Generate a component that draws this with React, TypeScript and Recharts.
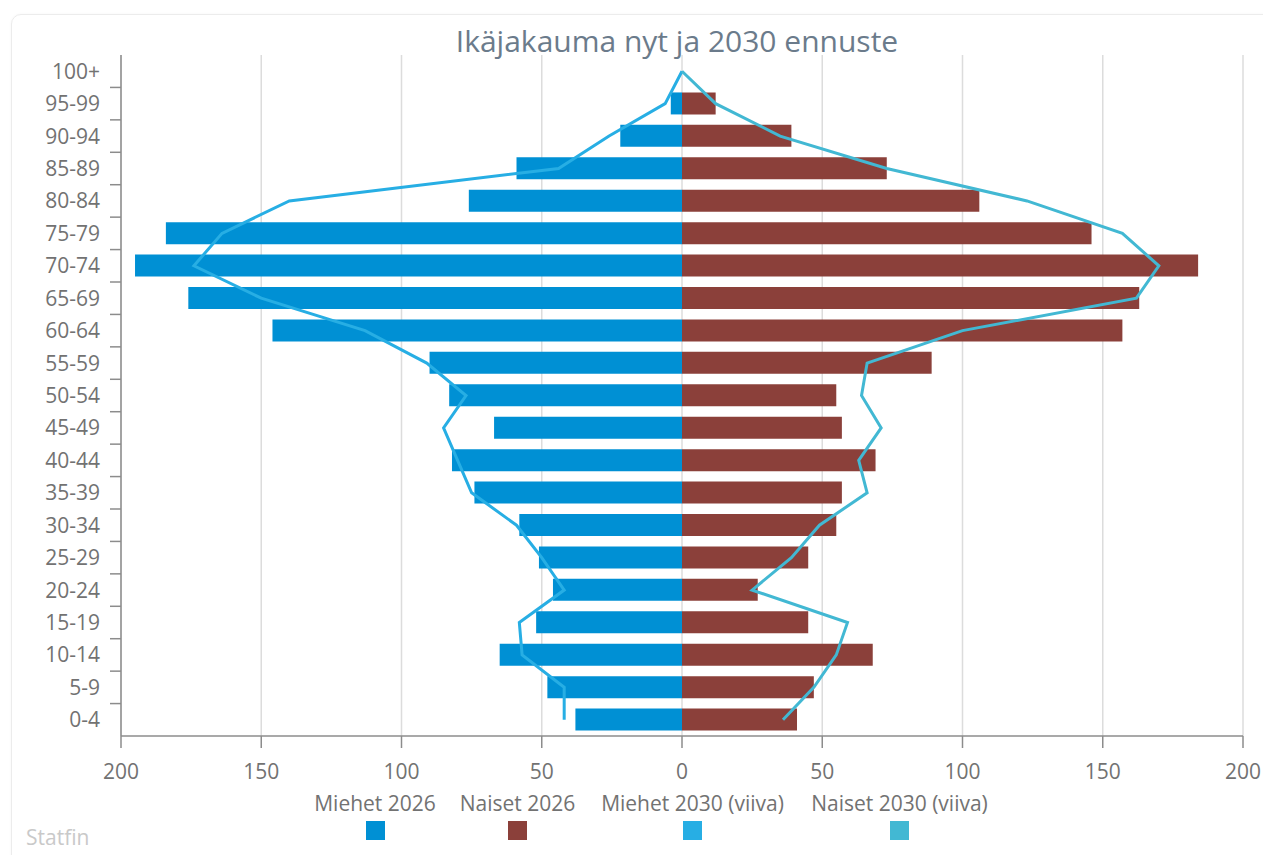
import React from 'react';
import {
  ComposedChart,
  Bar,
  Line,
  XAxis,
  YAxis,
  CartesianGrid,
} from 'recharts';

// Age groups, top row first
const AGES = [
  '100+', '95-99', '90-94', '85-89', '80-84', '75-79', '70-74', '65-69', '60-64', '55-59',
  '50-54', '45-49', '40-44', '35-39', '30-34', '25-29', '20-24', '15-19', '10-14', '5-9', '0-4',
];

const MEN_2026 = [0, 4, 22, 59, 76, 184, 195, 176, 146, 90, 83, 67, 82, 74, 58, 51, 46, 52, 65, 48, 38];
const WOMEN_2026 = [0, 12, 39, 73, 106, 146, 184, 163, 157, 89, 55, 57, 69, 57, 55, 45, 27, 45, 68, 47, 41];
const MEN_2030 = [0, 6, 26, 44, 140, 164, 174, 150, 113, 91, 77, 85, 80, 75, 59, 50, 42, 58, 57, 42, 42];
const WOMEN_2030 = [0, 12, 35, 73, 123, 157, 170, 162, 100, 66, 64, 71, 63, 66, 49, 39, 25, 59, 55, 47, 36];

const X_TICKS = [-200, -150, -100, -50, 0, 50, 100, 150, 200];

const COLORS = {
  men: '#0090D4',
  women: '#8B403A',
  men30: '#27AEE4',
  women30: '#42B8D3',
  axis: '#8c8c8c',
  grid: '#dcdcdc',
  text: '#727272',
  title: '#6b7b8b',
};

const FONT = '"Open Sans", "Noto Sans", sans-serif';

const CHART_W = 1263;
const CHART_H = 855;
const MARGIN = { top: 55, right: 20, left: 0, bottom: 79 };
const X_AXIS_H = 40;
const PLOT_H = CHART_H - MARGIN.top - MARGIN.bottom - X_AXIS_H;

const data = AGES.map((age, i) => ({
  age,
  men: -MEN_2026[i],
  women: WOMEN_2026[i],
  men30: -MEN_2030[i],
  women30: WOMEN_2030[i],
}));

const LEGEND = [
  { label: 'Miehet 2026', color: COLORS.men, cx: 375 },
  { label: 'Naiset 2026', color: COLORS.women, cx: 517.5 },
  { label: 'Miehet 2030 (viiva)', color: COLORS.men30, cx: 692.5 },
  { label: 'Naiset 2030 (viiva)', color: COLORS.women30, cx: 899.5 },
];

// y tick: label at band centre, tick mark on the band boundary below it
const AgeTick = (props: any) => {
  const { x, y, payload, index } = props;
  const band = PLOT_H / AGES.length;
  const last = index === AGES.length - 1;
  return (
    <g>
      <text x={x} y={y} dy={7.5} textAnchor="end" fill={COLORS.text} fontSize={21} fontFamily={FONT}>
        {payload.value}
      </text>
      {!last && (
        <line x1={x + 10} x2={x + 21} y1={y + band / 2} y2={y + band / 2} stroke={COLORS.axis} strokeWidth={1.5} />
      )}
    </g>
  );
};

export default function App() {
  return (
    <div style={{ position: 'absolute', left: 0, top: 0, width: CHART_W, height: CHART_H, background: '#fff', overflow: 'hidden', fontFamily: FONT }}>
      <div
        style={{
          position: 'absolute', left: 11, top: 14, width: 1300, height: 900,
          border: '1px solid #ececec', borderRadius: 10, boxShadow: '0 0 3px rgba(0,0,0,0.04)',
        }}
      />
      <div
        style={{
          position: 'absolute', left: 377, top: 26, width: 600, textAlign: 'center',
          fontSize: 30, lineHeight: '30px', color: COLORS.title,
        }}
      >
        Ikäjakauma nyt ja 2030 ennuste
      </div>

      <div style={{ position: 'absolute', left: 0, top: 0 }}>
        <ComposedChart
          width={CHART_W}
          height={CHART_H}
          data={data}
          layout="vertical"
          stackOffset="sign"
          barCategoryGap={0}
          margin={MARGIN}
        >
          <CartesianGrid horizontal={false} stroke={COLORS.grid} strokeWidth={1.5} />
          <XAxis
            type="number"
            domain={[-200, 200]}
            ticks={X_TICKS}
            tickFormatter={(v: number) => String(Math.abs(v))}
            height={X_AXIS_H}
            tickSize={12}
            tickMargin={16}
            stroke={COLORS.axis}
            strokeWidth={1.5}
            tick={{ fontSize: 21, fill: COLORS.text, fontFamily: FONT }}
          />
          <YAxis
            type="category"
            dataKey="age"
            width={121}
            tickSize={11}
            tickMargin={10}
            tickLine={false}
            stroke={COLORS.axis}
            strokeWidth={1.5}
            interval={0}
            tick={<AgeTick />}
          />
          <Bar dataKey="men" stackId="p" fill={COLORS.men} barSize={22} isAnimationActive={false} />
          <Bar dataKey="women" stackId="p" fill={COLORS.women} barSize={22} isAnimationActive={false} />
          <Line dataKey="men30" type="linear" stroke={COLORS.men30} strokeWidth={3} dot={false} isAnimationActive={false} />
          <Line dataKey="women30" type="linear" stroke={COLORS.women30} strokeWidth={3} dot={false} isAnimationActive={false} />
        </ComposedChart>
      </div>

      {LEGEND.map((item) => (
        <div key={item.label} style={{ position: 'absolute', left: item.cx - 120, width: 240, top: 788, textAlign: 'center' }}>
          <div style={{ fontSize: 21, lineHeight: '30px', color: COLORS.text, whiteSpace: 'nowrap' }}>{item.label}</div>
          <div style={{ width: 19, height: 19, background: item.color, margin: '3px auto 0' }} />
        </div>
      ))}

      <div style={{ position: 'absolute', left: 26, top: 822, fontSize: 21, lineHeight: '30px', color: '#c9c9c9' }}>
        Statfin
      </div>
    </div>
  );
}
